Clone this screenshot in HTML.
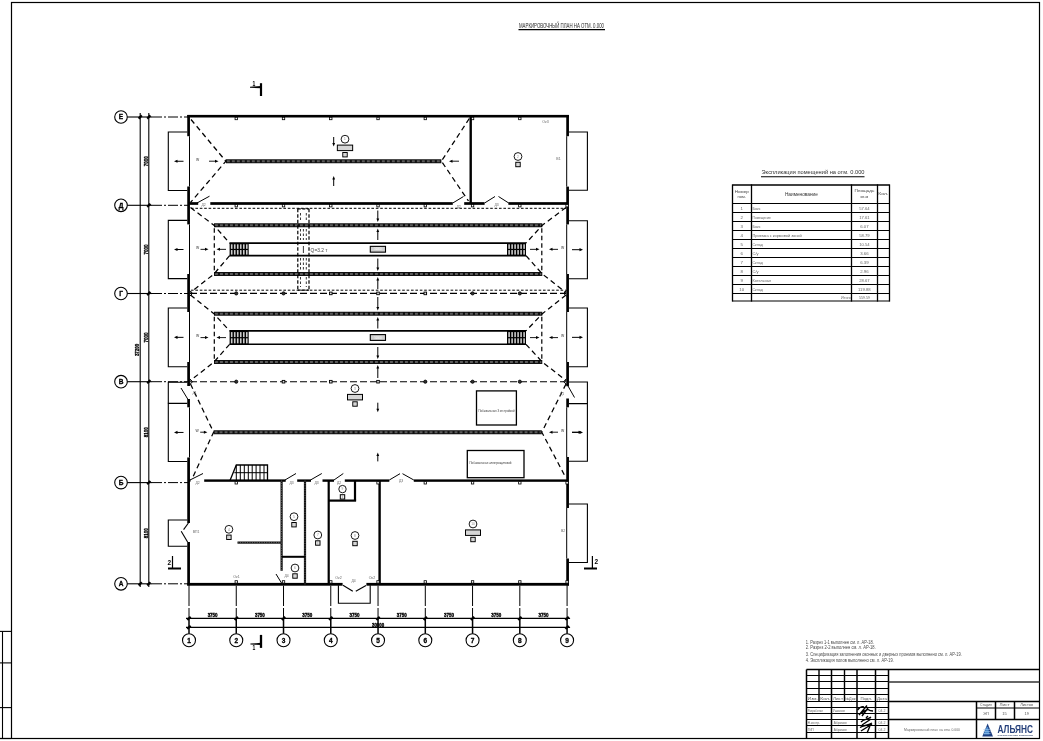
<!DOCTYPE html>
<html><head><meta charset="utf-8"><style>
html,body{margin:0;padding:0;background:#fff;}
svg{display:block;will-change:transform;}
text{font-family:"Liberation Sans",sans-serif;}
</style></head><body>
<svg width="1043" height="741" viewBox="0 0 1043 741">
<rect x="0" y="0" width="1043" height="741" fill="#fff"/>
<rect x="11.50" y="2.50" width="1028.00" height="736.00" fill="none" stroke="#000" stroke-width="1.2" />
<line x1="0.00" y1="738.50" x2="11.00" y2="738.50" stroke="#000" stroke-width="1.3" />
<line x1="0.00" y1="631.40" x2="11.00" y2="631.40" stroke="#000" stroke-width="1.1" />
<line x1="0.00" y1="662.90" x2="11.00" y2="662.90" stroke="#000" stroke-width="1.1" />
<line x1="0.00" y1="707.60" x2="11.00" y2="707.60" stroke="#000" stroke-width="1.1" />
<line x1="2.50" y1="631.40" x2="2.50" y2="738.50" stroke="#000" stroke-width="1.1" />
<text x="519.00" y="28.20" font-size="6.9" text-anchor="start" fill="#2a2a2a" font-weight="normal" font-family="Liberation Sans" textLength="85" lengthAdjust="spacingAndGlyphs" >МАРКИРОВОЧНЫЙ ПЛАН НА ОТМ. 0.000</text>
<line x1="518.50" y1="29.60" x2="605.00" y2="29.60" stroke="#000" stroke-width="1.1" />
<circle cx="121.00" cy="117.00" r="6.30" fill="none" stroke="#000" stroke-width="1.1"/>
<text x="121.00" y="119.40" font-size="6.5" text-anchor="middle" fill="#000" font-weight="bold" font-family="Liberation Sans"  stroke="#000" stroke-width="0.3">Е</text>
<line x1="127.30" y1="117.00" x2="152.00" y2="117.00" stroke="#000" stroke-width="1.1" />
<line x1="152.00" y1="117.00" x2="188.00" y2="117.00" stroke="#000" stroke-width="1.0" stroke-dasharray="10,2,2,2" />
<circle cx="121.00" cy="205.30" r="6.30" fill="none" stroke="#000" stroke-width="1.1"/>
<text x="121.00" y="207.70" font-size="6.5" text-anchor="middle" fill="#000" font-weight="bold" font-family="Liberation Sans"  stroke="#000" stroke-width="0.3">Д</text>
<line x1="127.30" y1="205.30" x2="152.00" y2="205.30" stroke="#000" stroke-width="1.1" />
<line x1="152.00" y1="205.30" x2="188.00" y2="205.30" stroke="#000" stroke-width="1.0" stroke-dasharray="10,2,2,2" />
<circle cx="121.00" cy="293.50" r="6.30" fill="none" stroke="#000" stroke-width="1.1"/>
<text x="121.00" y="295.90" font-size="6.5" text-anchor="middle" fill="#000" font-weight="bold" font-family="Liberation Sans"  stroke="#000" stroke-width="0.3">Г</text>
<line x1="127.30" y1="293.50" x2="152.00" y2="293.50" stroke="#000" stroke-width="1.1" />
<line x1="152.00" y1="293.50" x2="188.00" y2="293.50" stroke="#000" stroke-width="1.0" stroke-dasharray="10,2,2,2" />
<circle cx="121.00" cy="381.70" r="6.30" fill="none" stroke="#000" stroke-width="1.1"/>
<text x="121.00" y="384.10" font-size="6.5" text-anchor="middle" fill="#000" font-weight="bold" font-family="Liberation Sans"  stroke="#000" stroke-width="0.3">В</text>
<line x1="127.30" y1="381.70" x2="152.00" y2="381.70" stroke="#000" stroke-width="1.1" />
<line x1="152.00" y1="381.70" x2="188.00" y2="381.70" stroke="#000" stroke-width="1.0" stroke-dasharray="10,2,2,2" />
<circle cx="121.00" cy="482.60" r="6.30" fill="none" stroke="#000" stroke-width="1.1"/>
<text x="121.00" y="485.00" font-size="6.5" text-anchor="middle" fill="#000" font-weight="bold" font-family="Liberation Sans"  stroke="#000" stroke-width="0.3">Б</text>
<line x1="127.30" y1="482.60" x2="152.00" y2="482.60" stroke="#000" stroke-width="1.1" />
<line x1="152.00" y1="482.60" x2="188.00" y2="482.60" stroke="#000" stroke-width="1.0" stroke-dasharray="10,2,2,2" />
<circle cx="121.00" cy="583.80" r="6.30" fill="none" stroke="#000" stroke-width="1.1"/>
<text x="121.00" y="586.20" font-size="6.5" text-anchor="middle" fill="#000" font-weight="bold" font-family="Liberation Sans"  stroke="#000" stroke-width="0.3">А</text>
<line x1="127.30" y1="583.80" x2="152.00" y2="583.80" stroke="#000" stroke-width="1.1" />
<line x1="152.00" y1="583.80" x2="188.00" y2="583.80" stroke="#000" stroke-width="1.0" stroke-dasharray="10,2,2,2" />
<line x1="140.20" y1="113.00" x2="140.20" y2="587.00" stroke="#000" stroke-width="1.1" />
<line x1="148.80" y1="113.00" x2="148.80" y2="587.00" stroke="#000" stroke-width="1.1" />
<line x1="138.60" y1="118.60" x2="141.80" y2="115.40" stroke="#000" stroke-width="2.2" />
<line x1="138.60" y1="585.40" x2="141.80" y2="582.20" stroke="#000" stroke-width="2.2" />
<line x1="147.20" y1="118.60" x2="150.40" y2="115.40" stroke="#000" stroke-width="2.2" />
<line x1="147.20" y1="206.90" x2="150.40" y2="203.70" stroke="#000" stroke-width="2.2" />
<line x1="147.20" y1="295.10" x2="150.40" y2="291.90" stroke="#000" stroke-width="2.2" />
<line x1="147.20" y1="383.30" x2="150.40" y2="380.10" stroke="#000" stroke-width="2.2" />
<line x1="147.20" y1="484.20" x2="150.40" y2="481.00" stroke="#000" stroke-width="2.2" />
<line x1="147.20" y1="585.40" x2="150.40" y2="582.20" stroke="#000" stroke-width="2.2" />
<text x="148.10" y="161.15" font-size="5.4" text-anchor="middle" fill="#000" font-weight="bold" font-family="Liberation Sans" textLength="10" lengthAdjust="spacingAndGlyphs" transform="rotate(-90 148.10 161.15)"  stroke="#000" stroke-width="0.35">7000</text>
<text x="148.10" y="249.40" font-size="5.4" text-anchor="middle" fill="#000" font-weight="bold" font-family="Liberation Sans" textLength="10" lengthAdjust="spacingAndGlyphs" transform="rotate(-90 148.10 249.40)"  stroke="#000" stroke-width="0.35">7000</text>
<text x="148.10" y="337.60" font-size="5.4" text-anchor="middle" fill="#000" font-weight="bold" font-family="Liberation Sans" textLength="10" lengthAdjust="spacingAndGlyphs" transform="rotate(-90 148.10 337.60)"  stroke="#000" stroke-width="0.35">7000</text>
<text x="148.10" y="432.15" font-size="5.4" text-anchor="middle" fill="#000" font-weight="bold" font-family="Liberation Sans" textLength="10" lengthAdjust="spacingAndGlyphs" transform="rotate(-90 148.10 432.15)"  stroke="#000" stroke-width="0.35">8100</text>
<text x="148.10" y="533.20" font-size="5.4" text-anchor="middle" fill="#000" font-weight="bold" font-family="Liberation Sans" textLength="10" lengthAdjust="spacingAndGlyphs" transform="rotate(-90 148.10 533.20)"  stroke="#000" stroke-width="0.35">8100</text>
<text x="139.10" y="350.00" font-size="5.4" text-anchor="middle" fill="#000" font-weight="bold" font-family="Liberation Sans" textLength="12.2" lengthAdjust="spacingAndGlyphs" transform="rotate(-90 139.10 350.00)"  stroke="#000" stroke-width="0.35">37200</text>
<circle cx="189.00" cy="640.20" r="6.50" fill="none" stroke="#000" stroke-width="1.1"/>
<text x="189.00" y="642.60" font-size="6.5" text-anchor="middle" fill="#000" font-weight="bold" font-family="Liberation Sans"  stroke="#000" stroke-width="0.3">1</text>
<line x1="189.00" y1="585.70" x2="189.00" y2="606.00" stroke="#000" stroke-width="1.0" />
<line x1="189.00" y1="608.00" x2="189.00" y2="618.40" stroke="#000" stroke-width="1.0" />
<line x1="189.00" y1="618.40" x2="189.00" y2="633.70" stroke="#000" stroke-width="1.5" />
<circle cx="236.26" cy="640.20" r="6.50" fill="none" stroke="#000" stroke-width="1.1"/>
<text x="236.26" y="642.60" font-size="6.5" text-anchor="middle" fill="#000" font-weight="bold" font-family="Liberation Sans"  stroke="#000" stroke-width="0.3">2</text>
<line x1="236.26" y1="585.70" x2="236.26" y2="606.00" stroke="#000" stroke-width="1.0" />
<line x1="236.26" y1="608.00" x2="236.26" y2="618.40" stroke="#000" stroke-width="1.0" />
<line x1="236.26" y1="618.40" x2="236.26" y2="633.70" stroke="#000" stroke-width="1.5" />
<circle cx="283.52" cy="640.20" r="6.50" fill="none" stroke="#000" stroke-width="1.1"/>
<text x="283.52" y="642.60" font-size="6.5" text-anchor="middle" fill="#000" font-weight="bold" font-family="Liberation Sans"  stroke="#000" stroke-width="0.3">3</text>
<line x1="283.52" y1="585.70" x2="283.52" y2="606.00" stroke="#000" stroke-width="1.0" />
<line x1="283.52" y1="608.00" x2="283.52" y2="618.40" stroke="#000" stroke-width="1.0" />
<line x1="283.52" y1="618.40" x2="283.52" y2="633.70" stroke="#000" stroke-width="1.5" />
<circle cx="330.78" cy="640.20" r="6.50" fill="none" stroke="#000" stroke-width="1.1"/>
<text x="330.78" y="642.60" font-size="6.5" text-anchor="middle" fill="#000" font-weight="bold" font-family="Liberation Sans"  stroke="#000" stroke-width="0.3">4</text>
<line x1="330.78" y1="585.70" x2="330.78" y2="606.00" stroke="#000" stroke-width="1.0" />
<line x1="330.78" y1="608.00" x2="330.78" y2="618.40" stroke="#000" stroke-width="1.0" />
<line x1="330.78" y1="618.40" x2="330.78" y2="633.70" stroke="#000" stroke-width="1.5" />
<circle cx="378.04" cy="640.20" r="6.50" fill="none" stroke="#000" stroke-width="1.1"/>
<text x="378.04" y="642.60" font-size="6.5" text-anchor="middle" fill="#000" font-weight="bold" font-family="Liberation Sans"  stroke="#000" stroke-width="0.3">5</text>
<line x1="378.04" y1="585.70" x2="378.04" y2="606.00" stroke="#000" stroke-width="1.0" />
<line x1="378.04" y1="608.00" x2="378.04" y2="618.40" stroke="#000" stroke-width="1.0" />
<line x1="378.04" y1="618.40" x2="378.04" y2="633.70" stroke="#000" stroke-width="1.5" />
<circle cx="425.30" cy="640.20" r="6.50" fill="none" stroke="#000" stroke-width="1.1"/>
<text x="425.30" y="642.60" font-size="6.5" text-anchor="middle" fill="#000" font-weight="bold" font-family="Liberation Sans"  stroke="#000" stroke-width="0.3">6</text>
<line x1="425.30" y1="585.70" x2="425.30" y2="606.00" stroke="#000" stroke-width="1.0" />
<line x1="425.30" y1="608.00" x2="425.30" y2="618.40" stroke="#000" stroke-width="1.0" />
<line x1="425.30" y1="618.40" x2="425.30" y2="633.70" stroke="#000" stroke-width="1.5" />
<circle cx="472.56" cy="640.20" r="6.50" fill="none" stroke="#000" stroke-width="1.1"/>
<text x="472.56" y="642.60" font-size="6.5" text-anchor="middle" fill="#000" font-weight="bold" font-family="Liberation Sans"  stroke="#000" stroke-width="0.3">7</text>
<line x1="472.56" y1="585.70" x2="472.56" y2="606.00" stroke="#000" stroke-width="1.0" />
<line x1="472.56" y1="608.00" x2="472.56" y2="618.40" stroke="#000" stroke-width="1.0" />
<line x1="472.56" y1="618.40" x2="472.56" y2="633.70" stroke="#000" stroke-width="1.5" />
<circle cx="519.82" cy="640.20" r="6.50" fill="none" stroke="#000" stroke-width="1.1"/>
<text x="519.82" y="642.60" font-size="6.5" text-anchor="middle" fill="#000" font-weight="bold" font-family="Liberation Sans"  stroke="#000" stroke-width="0.3">8</text>
<line x1="519.82" y1="585.70" x2="519.82" y2="606.00" stroke="#000" stroke-width="1.0" />
<line x1="519.82" y1="608.00" x2="519.82" y2="618.40" stroke="#000" stroke-width="1.0" />
<line x1="519.82" y1="618.40" x2="519.82" y2="633.70" stroke="#000" stroke-width="1.5" />
<circle cx="567.08" cy="640.20" r="6.50" fill="none" stroke="#000" stroke-width="1.1"/>
<text x="567.08" y="642.60" font-size="6.5" text-anchor="middle" fill="#000" font-weight="bold" font-family="Liberation Sans"  stroke="#000" stroke-width="0.3">9</text>
<line x1="567.08" y1="585.70" x2="567.08" y2="606.00" stroke="#000" stroke-width="1.0" />
<line x1="567.08" y1="608.00" x2="567.08" y2="618.40" stroke="#000" stroke-width="1.0" />
<line x1="567.08" y1="618.40" x2="567.08" y2="633.70" stroke="#000" stroke-width="1.5" />
<line x1="186.00" y1="618.40" x2="570.08" y2="618.40" stroke="#000" stroke-width="1.1" />
<line x1="186.00" y1="627.40" x2="570.08" y2="627.40" stroke="#000" stroke-width="1.1" />
<line x1="187.40" y1="620.00" x2="190.60" y2="616.80" stroke="#000" stroke-width="2.2" />
<line x1="234.66" y1="620.00" x2="237.86" y2="616.80" stroke="#000" stroke-width="2.2" />
<line x1="281.92" y1="620.00" x2="285.12" y2="616.80" stroke="#000" stroke-width="2.2" />
<line x1="329.18" y1="620.00" x2="332.38" y2="616.80" stroke="#000" stroke-width="2.2" />
<line x1="376.44" y1="620.00" x2="379.64" y2="616.80" stroke="#000" stroke-width="2.2" />
<line x1="423.70" y1="620.00" x2="426.90" y2="616.80" stroke="#000" stroke-width="2.2" />
<line x1="470.96" y1="620.00" x2="474.16" y2="616.80" stroke="#000" stroke-width="2.2" />
<line x1="518.22" y1="620.00" x2="521.42" y2="616.80" stroke="#000" stroke-width="2.2" />
<line x1="565.48" y1="620.00" x2="568.68" y2="616.80" stroke="#000" stroke-width="2.2" />
<line x1="187.40" y1="629.00" x2="190.60" y2="625.80" stroke="#000" stroke-width="2.2" />
<line x1="565.48" y1="629.00" x2="568.68" y2="625.80" stroke="#000" stroke-width="2.2" />
<text x="212.63" y="617.40" font-size="5.4" text-anchor="middle" fill="#000" font-weight="bold" font-family="Liberation Sans" textLength="10" lengthAdjust="spacingAndGlyphs"  stroke="#000" stroke-width="0.35">3750</text>
<text x="259.89" y="617.40" font-size="5.4" text-anchor="middle" fill="#000" font-weight="bold" font-family="Liberation Sans" textLength="10" lengthAdjust="spacingAndGlyphs"  stroke="#000" stroke-width="0.35">3750</text>
<text x="307.15" y="617.40" font-size="5.4" text-anchor="middle" fill="#000" font-weight="bold" font-family="Liberation Sans" textLength="10" lengthAdjust="spacingAndGlyphs"  stroke="#000" stroke-width="0.35">3750</text>
<text x="354.41" y="617.40" font-size="5.4" text-anchor="middle" fill="#000" font-weight="bold" font-family="Liberation Sans" textLength="10" lengthAdjust="spacingAndGlyphs"  stroke="#000" stroke-width="0.35">3750</text>
<text x="401.67" y="617.40" font-size="5.4" text-anchor="middle" fill="#000" font-weight="bold" font-family="Liberation Sans" textLength="10" lengthAdjust="spacingAndGlyphs"  stroke="#000" stroke-width="0.35">3750</text>
<text x="448.93" y="617.40" font-size="5.4" text-anchor="middle" fill="#000" font-weight="bold" font-family="Liberation Sans" textLength="10" lengthAdjust="spacingAndGlyphs"  stroke="#000" stroke-width="0.35">3750</text>
<text x="496.19" y="617.40" font-size="5.4" text-anchor="middle" fill="#000" font-weight="bold" font-family="Liberation Sans" textLength="10" lengthAdjust="spacingAndGlyphs"  stroke="#000" stroke-width="0.35">3750</text>
<text x="543.45" y="617.40" font-size="5.4" text-anchor="middle" fill="#000" font-weight="bold" font-family="Liberation Sans" textLength="10" lengthAdjust="spacingAndGlyphs"  stroke="#000" stroke-width="0.35">3750</text>
<text x="378.04" y="626.70" font-size="5.4" text-anchor="middle" fill="#000" font-weight="bold" font-family="Liberation Sans" textLength="12.2" lengthAdjust="spacingAndGlyphs"  stroke="#000" stroke-width="0.35">30000</text>
<line x1="261.00" y1="83.20" x2="261.00" y2="96.00" stroke="#000" stroke-width="2.2" />
<path d="M250 86.7 L261 86.1 L261 88.3 L250 87.7 Z" fill="#000"/>
<text x="253.80" y="86.20" font-size="7.2" text-anchor="middle" fill="#000" font-weight="bold" font-family="Liberation Sans" textLength="2.8" lengthAdjust="spacingAndGlyphs" >1</text>
<line x1="261.00" y1="634.90" x2="261.00" y2="647.90" stroke="#000" stroke-width="2.3" />
<path d="M250.4 643.4 L256 643.2 L261 642.8 L261 645.1 L256 644.8 L250.4 644.4 Z" fill="#000"/>
<text x="253.90" y="649.90" font-size="7.4" text-anchor="middle" fill="#000" font-weight="bold" font-family="Liberation Sans" textLength="2.8" lengthAdjust="spacingAndGlyphs" >1</text>
<line x1="172.50" y1="556.00" x2="172.50" y2="568.50" stroke="#000" stroke-width="1.2" />
<line x1="168.00" y1="568.50" x2="181.00" y2="568.50" stroke="#000" stroke-width="2.0" />
<text x="169.40" y="564.80" font-size="6.8" text-anchor="middle" fill="#000" font-weight="bold" font-family="Liberation Sans" textLength="3.6" lengthAdjust="spacingAndGlyphs" >2</text>
<line x1="592.40" y1="556.00" x2="592.40" y2="568.50" stroke="#000" stroke-width="1.2" />
<line x1="584.00" y1="568.50" x2="597.00" y2="568.50" stroke="#000" stroke-width="2.0" />
<text x="596.20" y="563.80" font-size="6.8" text-anchor="middle" fill="#000" font-weight="bold" font-family="Liberation Sans" textLength="3.6" lengthAdjust="spacingAndGlyphs" >2</text>
<rect x="187.25" y="114.90" width="381.70" height="2.60" fill="#000"/>
<rect x="187.25" y="582.90" width="155.35" height="2.80" fill="#000"/>
<rect x="366.40" y="582.90" width="202.55" height="2.80" fill="#000"/>
<rect x="187.25" y="115.00" width="2.70" height="21.20" fill="#000"/>
<rect x="187.25" y="186.50" width="2.70" height="37.90" fill="#000"/>
<rect x="187.25" y="274.00" width="2.70" height="38.00" fill="#000"/>
<rect x="187.25" y="362.00" width="2.70" height="24.00" fill="#000"/>
<rect x="187.25" y="399.00" width="2.70" height="8.30" fill="#000"/>
<rect x="187.25" y="457.50" width="2.70" height="65.50" fill="#000"/>
<rect x="187.25" y="542.00" width="2.70" height="43.50" fill="#000"/>
<line x1="189.50" y1="136.20" x2="189.50" y2="186.50" stroke="#000" stroke-width="1.0" />
<line x1="189.50" y1="224.40" x2="189.50" y2="274.00" stroke="#000" stroke-width="1.0" />
<line x1="189.50" y1="312.00" x2="189.50" y2="362.00" stroke="#000" stroke-width="1.0" />
<line x1="189.50" y1="407.30" x2="189.50" y2="457.50" stroke="#000" stroke-width="1.0" />
<rect x="566.25" y="115.00" width="2.70" height="21.20" fill="#000"/>
<rect x="566.25" y="186.60" width="2.70" height="37.80" fill="#000"/>
<rect x="566.25" y="274.00" width="2.70" height="38.00" fill="#000"/>
<rect x="566.25" y="362.00" width="2.70" height="24.20" fill="#000"/>
<rect x="566.25" y="398.50" width="2.70" height="8.80" fill="#000"/>
<rect x="566.25" y="457.00" width="2.70" height="51.00" fill="#000"/>
<rect x="566.25" y="558.50" width="2.70" height="27.00" fill="#000"/>
<line x1="566.70" y1="136.20" x2="566.70" y2="186.60" stroke="#000" stroke-width="1.0" />
<line x1="566.70" y1="224.40" x2="566.70" y2="274.00" stroke="#000" stroke-width="1.0" />
<line x1="566.70" y1="312.00" x2="566.70" y2="362.00" stroke="#000" stroke-width="1.0" />
<line x1="566.70" y1="407.30" x2="566.70" y2="457.00" stroke="#000" stroke-width="1.0" />
<line x1="566.70" y1="508.00" x2="566.70" y2="558.50" stroke="#000" stroke-width="1.0" />
<polyline points="187.30,132.00 168.30,132.00 168.30,190.50 187.30,190.50" fill="none" stroke="#000" stroke-width="1.1"/>
<line x1="176.00" y1="161.25" x2="183.50" y2="161.25" stroke="#000" stroke-width="1.0" />
<path d="M174 161.25 L177.5 159.65 L177.5 162.85 Z" fill="#000"/>
<polyline points="187.30,220.40 168.30,220.40 168.30,278.60 187.30,278.60" fill="none" stroke="#000" stroke-width="1.1"/>
<line x1="176.00" y1="249.50" x2="183.50" y2="249.50" stroke="#000" stroke-width="1.0" />
<path d="M174 249.50 L177.5 247.90 L177.5 251.10 Z" fill="#000"/>
<polyline points="187.30,308.00 168.30,308.00 168.30,366.70 187.30,366.70" fill="none" stroke="#000" stroke-width="1.1"/>
<line x1="176.00" y1="337.35" x2="183.50" y2="337.35" stroke="#000" stroke-width="1.0" />
<path d="M174 337.35 L177.5 335.75 L177.5 338.95 Z" fill="#000"/>
<polyline points="187.30,403.40 168.30,403.40 168.30,461.50 187.30,461.50" fill="none" stroke="#000" stroke-width="1.1"/>
<line x1="176.00" y1="432.45" x2="183.50" y2="432.45" stroke="#000" stroke-width="1.0" />
<path d="M174 432.45 L177.5 430.85 L177.5 434.05 Z" fill="#000"/>
<polyline points="187.30,382.20 168.30,382.20 168.30,403.40" fill="none" stroke="#000" stroke-width="1.1"/>
<line x1="181.00" y1="388.00" x2="188.00" y2="399.50" stroke="#000" stroke-width="1.0" />
<polyline points="187.30,520.00 168.30,520.00 168.30,546.30 187.30,546.30" fill="none" stroke="#000" stroke-width="1.1"/>
<rect x="187.25" y="520.00" width="2.70" height="0.00" fill="#000"/>
<polyline points="188.40,523.00 183.60,529.60" fill="none" stroke="#000" stroke-width="1.1"/>
<polyline points="181.20,531.30 187.60,542.00" fill="none" stroke="#000" stroke-width="1.1"/>
<polyline points="568.90,132.00 587.40,132.00 587.40,190.30 568.90,190.30" fill="none" stroke="#000" stroke-width="1.1"/>
<polyline points="568.90,220.70 587.40,220.70 587.40,278.70 568.90,278.70" fill="none" stroke="#000" stroke-width="1.1"/>
<polyline points="568.90,308.00 587.40,308.00 587.40,366.70 568.90,366.70" fill="none" stroke="#000" stroke-width="1.1"/>
<polyline points="568.90,403.60 587.40,403.60 587.40,461.20 568.90,461.20" fill="none" stroke="#000" stroke-width="1.1"/>
<polyline points="568.90,504.00 587.40,504.00 587.40,562.50 568.90,562.50" fill="none" stroke="#000" stroke-width="1.1"/>
<line x1="572.00" y1="249.70" x2="580.50" y2="249.70" stroke="#000" stroke-width="1.0" />
<path d="M583 249.70 L579.5 248.10 L579.5 251.30 Z" fill="#000"/>
<line x1="572.00" y1="337.35" x2="580.50" y2="337.35" stroke="#000" stroke-width="1.0" />
<path d="M583 337.35 L579.5 335.75 L579.5 338.95 Z" fill="#000"/>
<line x1="572.00" y1="432.40" x2="580.50" y2="432.40" stroke="#000" stroke-width="1.0" />
<path d="M583 432.40 L579.5 430.80 L579.5 434.00 Z" fill="#000"/>
<polyline points="568.90,382.00 587.40,382.00 587.40,403.60" fill="none" stroke="#000" stroke-width="1.1"/>
<line x1="568.00" y1="386.00" x2="574.50" y2="397.50" stroke="#000" stroke-width="1.0" />
<rect x="188.60" y="202.15" width="9.60" height="2.70" fill="#000"/>
<rect x="210.30" y="202.15" width="242.50" height="2.70" fill="#000"/>
<rect x="464.20" y="202.15" width="20.40" height="2.70" fill="#000"/>
<rect x="508.40" y="202.15" width="59.20" height="2.70" fill="#000"/>
<line x1="197.00" y1="203.00" x2="209.50" y2="196.20" stroke="#000" stroke-width="1.0" />
<line x1="452.80" y1="203.00" x2="463.50" y2="196.50" stroke="#000" stroke-width="1.0" />
<polyline points="484.60,203.00 495.00,196.50" fill="none" stroke="#000" stroke-width="1.0"/>
<polyline points="498.50,196.50 508.70,203.00" fill="none" stroke="#000" stroke-width="1.0"/>
<rect x="469.50" y="116.20" width="2.40" height="87.30" fill="#000"/>
<rect x="188.60" y="479.50" width="1.90" height="2.20" fill="#000"/>
<rect x="204.20" y="479.40" width="81.50" height="2.40" fill="#000"/>
<rect x="297.20" y="479.40" width="13.80" height="2.40" fill="#000"/>
<rect x="322.50" y="479.40" width="11.50" height="2.40" fill="#000"/>
<rect x="344.80" y="479.40" width="44.50" height="2.40" fill="#000"/>
<rect x="413.80" y="479.40" width="153.80" height="2.40" fill="#000"/>
<line x1="190.00" y1="480.00" x2="203.00" y2="473.50" stroke="#000" stroke-width="1.0" />
<line x1="285.00" y1="480.00" x2="296.00" y2="473.50" stroke="#000" stroke-width="1.0" />
<line x1="310.50" y1="480.00" x2="321.80" y2="473.50" stroke="#000" stroke-width="1.0" />
<line x1="334.00" y1="480.00" x2="343.30" y2="473.50" stroke="#000" stroke-width="1.0" />
<polyline points="389.30,480.00 400.00,473.70" fill="none" stroke="#000" stroke-width="1.0"/>
<polyline points="402.50,473.70 413.80,480.00" fill="none" stroke="#000" stroke-width="1.0"/>
<polyline points="230.00,480.60 236.30,465.00 267.50,465.00 267.50,480.60" fill="none" stroke="#000" stroke-width="1.3"/>
<line x1="234.30" y1="472.70" x2="267.50" y2="472.70" stroke="#000" stroke-width="1.0" />
<line x1="240.30" y1="465.00" x2="240.30" y2="480.60" stroke="#000" stroke-width="1.0" />
<line x1="244.30" y1="465.00" x2="244.30" y2="480.60" stroke="#000" stroke-width="1.0" />
<line x1="248.30" y1="465.00" x2="248.30" y2="480.60" stroke="#000" stroke-width="1.0" />
<line x1="252.20" y1="465.00" x2="252.20" y2="480.60" stroke="#000" stroke-width="1.0" />
<line x1="256.10" y1="465.00" x2="256.10" y2="480.60" stroke="#000" stroke-width="1.0" />
<line x1="260.00" y1="465.00" x2="260.00" y2="480.60" stroke="#000" stroke-width="1.0" />
<line x1="264.00" y1="465.00" x2="264.00" y2="480.60" stroke="#000" stroke-width="1.0" />
<line x1="236.30" y1="465.00" x2="236.30" y2="480.60" stroke="#000" stroke-width="1.0" />
<rect x="280.50" y="480.60" width="2.20" height="90.20" fill="#111"/>
<line x1="281.60" y1="480.60" x2="281.60" y2="570.80" stroke="#777" stroke-width="0.8" stroke-dasharray="1,1.4" />
<rect x="237.50" y="541.50" width="44.10" height="2.20" fill="#111"/>
<line x1="237.50" y1="542.60" x2="281.60" y2="542.60" stroke="#777" stroke-width="0.8" stroke-dasharray="1,1.4" />
<rect x="303.90" y="480.60" width="2.20" height="103.70" fill="#111"/>
<line x1="305.00" y1="480.60" x2="305.00" y2="584.30" stroke="#777" stroke-width="0.8" stroke-dasharray="1,1.4" />
<rect x="327.60" y="480.60" width="2.20" height="103.70" fill="#000"/>
<rect x="353.90" y="480.60" width="2.20" height="20.00" fill="#000"/>
<rect x="328.70" y="499.50" width="27.40" height="2.20" fill="#000"/>
<rect x="378.40" y="480.60" width="2.40" height="103.70" fill="#000"/>
<line x1="282.00" y1="556.80" x2="305.00" y2="556.80" stroke="#000" stroke-width="2.0" />
<line x1="276.00" y1="574.00" x2="281.50" y2="583.00" stroke="#000" stroke-width="1.0" />
<polyline points="338.40,585.30 338.40,603.30 370.20,603.30 370.20,585.30" fill="none" stroke="#000" stroke-width="1.1"/>
<polyline points="343.00,585.20 352.80,591.30" fill="none" stroke="#000" stroke-width="1.1"/>
<polyline points="355.80,591.30 366.00,585.50" fill="none" stroke="#000" stroke-width="1.1"/>
<rect x="235.06" y="117.30" width="2.40" height="2.40" fill="#fff" stroke="#000" stroke-width="0.8" />
<rect x="282.32" y="117.30" width="2.40" height="2.40" fill="#fff" stroke="#000" stroke-width="0.8" />
<rect x="329.58" y="117.30" width="2.40" height="2.40" fill="#fff" stroke="#000" stroke-width="0.8" />
<rect x="376.84" y="117.30" width="2.40" height="2.40" fill="#fff" stroke="#000" stroke-width="0.8" />
<rect x="424.10" y="117.30" width="2.40" height="2.40" fill="#fff" stroke="#000" stroke-width="0.8" />
<rect x="471.36" y="117.30" width="2.40" height="2.40" fill="#fff" stroke="#000" stroke-width="0.8" />
<rect x="518.62" y="117.30" width="2.40" height="2.40" fill="#fff" stroke="#000" stroke-width="0.8" />
<rect x="235.06" y="204.50" width="2.40" height="2.40" fill="#fff" stroke="#000" stroke-width="0.8" />
<rect x="282.32" y="204.50" width="2.40" height="2.40" fill="#fff" stroke="#000" stroke-width="0.8" />
<rect x="329.58" y="204.50" width="2.40" height="2.40" fill="#fff" stroke="#000" stroke-width="0.8" />
<rect x="376.84" y="204.50" width="2.40" height="2.40" fill="#fff" stroke="#000" stroke-width="0.8" />
<rect x="424.10" y="204.50" width="2.40" height="2.40" fill="#fff" stroke="#000" stroke-width="0.8" />
<rect x="471.36" y="204.50" width="2.40" height="2.40" fill="#fff" stroke="#000" stroke-width="0.8" />
<rect x="518.62" y="204.50" width="2.40" height="2.40" fill="#fff" stroke="#000" stroke-width="0.8" />
<rect x="565.88" y="204.50" width="2.40" height="2.40" fill="#fff" stroke="#000" stroke-width="0.8" />
<rect x="235.06" y="481.60" width="2.40" height="2.40" fill="#fff" stroke="#000" stroke-width="0.8" />
<rect x="376.84" y="481.60" width="2.40" height="2.40" fill="#fff" stroke="#000" stroke-width="0.8" />
<rect x="424.10" y="481.60" width="2.40" height="2.40" fill="#fff" stroke="#000" stroke-width="0.8" />
<rect x="471.36" y="481.60" width="2.40" height="2.40" fill="#fff" stroke="#000" stroke-width="0.8" />
<rect x="518.62" y="481.60" width="2.40" height="2.40" fill="#fff" stroke="#000" stroke-width="0.8" />
<rect x="565.88" y="481.60" width="2.40" height="2.40" fill="#fff" stroke="#000" stroke-width="0.8" />
<rect x="235.06" y="580.70" width="2.40" height="2.40" fill="#fff" stroke="#000" stroke-width="0.8" />
<rect x="282.32" y="580.70" width="2.40" height="2.40" fill="#fff" stroke="#000" stroke-width="0.8" />
<rect x="329.58" y="580.70" width="2.40" height="2.40" fill="#fff" stroke="#000" stroke-width="0.8" />
<rect x="376.84" y="580.70" width="2.40" height="2.40" fill="#fff" stroke="#000" stroke-width="0.8" />
<rect x="424.10" y="580.70" width="2.40" height="2.40" fill="#fff" stroke="#000" stroke-width="0.8" />
<rect x="471.36" y="580.70" width="2.40" height="2.40" fill="#fff" stroke="#000" stroke-width="0.8" />
<rect x="518.62" y="580.70" width="2.40" height="2.40" fill="#fff" stroke="#000" stroke-width="0.8" />
<rect x="565.88" y="580.70" width="2.40" height="2.40" fill="#fff" stroke="#000" stroke-width="0.8" />
<line x1="225.90" y1="161.20" x2="441.40" y2="161.20" stroke="#111" stroke-width="3.9" />
<line x1="226.90" y1="161.20" x2="440.40" y2="161.20" stroke="#5a5a5a" stroke-width="1.9" stroke-dasharray="2.9,2.1" />
<polyline points="191.00,119.50 225.90,161.20 190.50,202.50" fill="none" stroke="#000" stroke-width="1.25" stroke-dasharray="5.2,3.6"/>
<polyline points="469.30,118.50 441.40,161.20 468.50,201.00" fill="none" stroke="#000" stroke-width="1.25" stroke-dasharray="5.2,3.6"/>
<text x="197.50" y="160.60" font-size="3.9" text-anchor="middle" fill="#707070" font-weight="bold" font-family="Liberation Sans" textLength="3.2" lengthAdjust="spacingAndGlyphs" >W</text>
<line x1="209.00" y1="161.20" x2="216.00" y2="161.20" stroke="#000" stroke-width="0.9" />
<path d="M218.50 161.20 L215.00 159.70 L215.00 162.70 Z" fill="#000"/>
<line x1="451.50" y1="161.20" x2="459.00" y2="161.20" stroke="#000" stroke-width="0.9" />
<path d="M449.00 161.20 L452.50 159.70 L452.50 162.70 Z" fill="#000"/>
<circle cx="345.00" cy="139.20" r="3.90" fill="#fff" stroke="#000" stroke-width="0.9"/>
<text x="345.00" y="140.40" font-size="3.2" text-anchor="middle" fill="#888" font-weight="normal" font-family="Liberation Sans" >1</text>
<rect x="337.35" y="145.10" width="15.30" height="5.50" fill="#d6d6d6" stroke="#000" stroke-width="1.0" />
<rect x="342.80" y="152.50" width="4.40" height="4.40" fill="#f0f0f0" stroke="#000" stroke-width="1.0" />
<line x1="345.00" y1="153.00" x2="345.00" y2="156.40" stroke="#888" stroke-width="0.5" />
<line x1="333.70" y1="137.00" x2="333.70" y2="144.00" stroke="#000" stroke-width="1.0" />
<path d="M333.70 146.50 L332.30 143.00 L335.10 143.00 Z" fill="#000"/>
<line x1="333.70" y1="178.50" x2="333.70" y2="186.00" stroke="#000" stroke-width="1.0" />
<path d="M333.70 176.00 L332.30 179.50 L335.10 179.50 Z" fill="#000"/>
<circle cx="518.00" cy="156.50" r="3.90" fill="#fff" stroke="#000" stroke-width="0.9"/>
<text x="518.00" y="157.70" font-size="3.2" text-anchor="middle" fill="#888" font-weight="normal" font-family="Liberation Sans" >2</text>
<rect x="515.80" y="162.30" width="4.40" height="4.40" fill="#f0f0f0" stroke="#000" stroke-width="1.0" />
<line x1="518.00" y1="162.80" x2="518.00" y2="166.20" stroke="#888" stroke-width="0.5" />
<text x="545.50" y="122.50" font-size="3.6" text-anchor="middle" fill="#666" font-weight="normal" font-family="Liberation Sans" >Ок3</text>
<text x="558.50" y="160.00" font-size="3.6" text-anchor="middle" fill="#666" font-weight="normal" font-family="Liberation Sans" >В1</text>
<text x="203.50" y="206.30" font-size="3.4" text-anchor="middle" fill="#666" font-weight="normal" font-family="Liberation Sans" >Д2</text>
<text x="458.50" y="207.50" font-size="3.4" text-anchor="middle" fill="#666" font-weight="normal" font-family="Liberation Sans" >Д2</text>
<text x="496.50" y="206.00" font-size="3.4" text-anchor="middle" fill="#666" font-weight="normal" font-family="Liberation Sans" >Д3</text>
<line x1="191.00" y1="208.30" x2="566.00" y2="208.30" stroke="#000" stroke-width="1.0" stroke-dasharray="2.6,1.8" />
<line x1="191.00" y1="290.20" x2="566.00" y2="290.20" stroke="#000" stroke-width="1.0" stroke-dasharray="2.6,1.8" />
<line x1="190.00" y1="293.40" x2="566.00" y2="293.40" stroke="#000" stroke-width="1.1" stroke-dasharray="7,3" />
<line x1="190.00" y1="381.70" x2="566.00" y2="381.70" stroke="#000" stroke-width="1.1" stroke-dasharray="7,3" />
<circle cx="236.26" cy="293.40" r="1.60" fill="#333" stroke="#000" stroke-width="0.8"/>
<circle cx="236.26" cy="381.70" r="1.60" fill="#333" stroke="#000" stroke-width="0.8"/>
<circle cx="283.52" cy="293.40" r="1.60" fill="#333" stroke="#000" stroke-width="0.8"/>
<rect x="282.22" y="380.40" width="2.60" height="2.60" fill="#ddd" stroke="#000" stroke-width="0.9" />
<rect x="329.48" y="292.10" width="2.60" height="2.60" fill="#ddd" stroke="#000" stroke-width="0.9" />
<rect x="329.48" y="380.40" width="2.60" height="2.60" fill="#ddd" stroke="#000" stroke-width="0.9" />
<rect x="376.74" y="292.10" width="2.60" height="2.60" fill="#ddd" stroke="#000" stroke-width="0.9" />
<rect x="376.74" y="380.40" width="2.60" height="2.60" fill="#ddd" stroke="#000" stroke-width="0.9" />
<rect x="424.00" y="292.10" width="2.60" height="2.60" fill="#ddd" stroke="#000" stroke-width="0.9" />
<circle cx="425.30" cy="381.70" r="1.60" fill="#333" stroke="#000" stroke-width="0.8"/>
<circle cx="472.56" cy="293.40" r="1.60" fill="#333" stroke="#000" stroke-width="0.8"/>
<circle cx="472.56" cy="381.70" r="1.60" fill="#333" stroke="#000" stroke-width="0.8"/>
<circle cx="519.82" cy="293.40" r="1.60" fill="#333" stroke="#000" stroke-width="0.8"/>
<circle cx="519.82" cy="381.70" r="1.60" fill="#333" stroke="#000" stroke-width="0.8"/>
<path d="M189.60 290.40 L192.60 293.40 L189.60 296.40" fill="none" stroke="#000" stroke-width="1"/>
<path d="M566.60 290.40 L563.60 293.40 L566.60 296.40" fill="none" stroke="#000" stroke-width="1"/>
<path d="M189.60 378.70 L192.60 381.70 L189.60 384.70" fill="none" stroke="#000" stroke-width="1"/>
<path d="M566.60 378.70 L563.60 381.70 L566.60 384.70" fill="none" stroke="#000" stroke-width="1"/>
<line x1="214.00" y1="225.30" x2="542.30" y2="225.30" stroke="#111" stroke-width="3.9" />
<line x1="215.00" y1="225.30" x2="541.30" y2="225.30" stroke="#5a5a5a" stroke-width="1.9" stroke-dasharray="2.9,2.1" />
<line x1="214.00" y1="274.00" x2="542.30" y2="274.00" stroke="#111" stroke-width="3.9" />
<line x1="215.00" y1="274.00" x2="541.30" y2="274.00" stroke="#5a5a5a" stroke-width="1.9" stroke-dasharray="2.9,2.1" />
<line x1="229.60" y1="243.10" x2="526.00" y2="243.10" stroke="#000" stroke-width="1.6" />
<line x1="229.60" y1="255.60" x2="526.00" y2="255.60" stroke="#000" stroke-width="1.6" />
<rect x="229.60" y="243.10" width="19.10" height="12.50" fill="#000"/>
<rect x="230.90" y="244.30" width="1.62" height="4.55" fill="#ccc"/>
<rect x="233.92" y="244.30" width="1.62" height="4.55" fill="#ccc"/>
<rect x="236.93" y="244.30" width="1.62" height="4.55" fill="#ccc"/>
<rect x="239.95" y="244.30" width="1.62" height="4.55" fill="#ccc"/>
<rect x="242.97" y="244.30" width="1.62" height="4.55" fill="#ccc"/>
<rect x="245.98" y="244.30" width="1.62" height="4.55" fill="#ccc"/>
<rect x="230.90" y="250.05" width="1.62" height="4.55" fill="#ccc"/>
<rect x="233.92" y="250.05" width="1.62" height="4.55" fill="#ccc"/>
<rect x="236.93" y="250.05" width="1.62" height="4.55" fill="#ccc"/>
<rect x="239.95" y="250.05" width="1.62" height="4.55" fill="#ccc"/>
<rect x="242.97" y="250.05" width="1.62" height="4.55" fill="#ccc"/>
<rect x="245.98" y="250.05" width="1.62" height="4.55" fill="#ccc"/>
<rect x="507.00" y="243.10" width="19.00" height="12.50" fill="#000"/>
<rect x="508.30" y="244.30" width="1.60" height="4.55" fill="#ccc"/>
<rect x="511.30" y="244.30" width="1.60" height="4.55" fill="#ccc"/>
<rect x="514.30" y="244.30" width="1.60" height="4.55" fill="#ccc"/>
<rect x="517.30" y="244.30" width="1.60" height="4.55" fill="#ccc"/>
<rect x="520.30" y="244.30" width="1.60" height="4.55" fill="#ccc"/>
<rect x="523.30" y="244.30" width="1.60" height="4.55" fill="#ccc"/>
<rect x="508.30" y="250.05" width="1.60" height="4.55" fill="#ccc"/>
<rect x="511.30" y="250.05" width="1.60" height="4.55" fill="#ccc"/>
<rect x="514.30" y="250.05" width="1.60" height="4.55" fill="#ccc"/>
<rect x="517.30" y="250.05" width="1.60" height="4.55" fill="#ccc"/>
<rect x="520.30" y="250.05" width="1.60" height="4.55" fill="#ccc"/>
<rect x="523.30" y="250.05" width="1.60" height="4.55" fill="#ccc"/>
<line x1="214.30" y1="228.30" x2="214.30" y2="271.00" stroke="#000" stroke-width="1.2" stroke-dasharray="4.5,3" />
<line x1="541.80" y1="228.30" x2="541.80" y2="271.00" stroke="#000" stroke-width="1.2" stroke-dasharray="4.5,3" />
<polyline points="190.50,207.50 214.00,225.30 229.60,243.10" fill="none" stroke="#000" stroke-width="1.25" stroke-dasharray="5.2,3.6"/>
<polyline points="229.60,255.60 214.00,274.00 190.50,292.50" fill="none" stroke="#000" stroke-width="1.25" stroke-dasharray="5.2,3.6"/>
<polyline points="566.00,207.50 542.30,225.30 526.00,243.10" fill="none" stroke="#000" stroke-width="1.25" stroke-dasharray="5.2,3.6"/>
<polyline points="526.00,255.60 542.30,274.00 566.00,292.50" fill="none" stroke="#000" stroke-width="1.25" stroke-dasharray="5.2,3.6"/>
<text x="197.50" y="249.15" font-size="3.9" text-anchor="middle" fill="#707070" font-weight="bold" font-family="Liberation Sans" textLength="3.2" lengthAdjust="spacingAndGlyphs" >W</text>
<line x1="200.50" y1="249.35" x2="206.00" y2="249.35" stroke="#000" stroke-width="0.9" />
<path d="M208.50 249.35 L205.00 247.85 L205.00 250.85 Z" fill="#000"/>
<line x1="219.00" y1="249.35" x2="226.00" y2="249.35" stroke="#000" stroke-width="0.9" />
<path d="M216.50 249.35 L220.00 247.85 L220.00 250.85 Z" fill="#000"/>
<line x1="530.00" y1="249.35" x2="537.00" y2="249.35" stroke="#000" stroke-width="0.9" />
<path d="M539.50 249.35 L536.00 247.85 L536.00 250.85 Z" fill="#000"/>
<line x1="551.50" y1="249.35" x2="558.00" y2="249.35" stroke="#000" stroke-width="0.9" />
<path d="M549.00 249.35 L552.50 247.85 L552.50 250.85 Z" fill="#000"/>
<text x="562.50" y="249.15" font-size="3.9" text-anchor="middle" fill="#707070" font-weight="bold" font-family="Liberation Sans" textLength="3.2" lengthAdjust="spacingAndGlyphs" >W</text>
<rect x="370.30" y="246.35" width="15.20" height="5.80" fill="#d0d0d0" stroke="#000" stroke-width="1.1" />
<text x="377.80" y="250.45" font-size="2.6" text-anchor="middle" fill="#fff" font-weight="normal" font-family="Liberation Sans" >10000</text>
<line x1="214.00" y1="313.75" x2="542.30" y2="313.75" stroke="#111" stroke-width="3.9" />
<line x1="215.00" y1="313.75" x2="541.30" y2="313.75" stroke="#5a5a5a" stroke-width="1.9" stroke-dasharray="2.9,2.1" />
<line x1="214.00" y1="362.00" x2="542.30" y2="362.00" stroke="#111" stroke-width="3.9" />
<line x1="215.00" y1="362.00" x2="541.30" y2="362.00" stroke="#5a5a5a" stroke-width="1.9" stroke-dasharray="2.9,2.1" />
<line x1="229.60" y1="330.90" x2="526.00" y2="330.90" stroke="#000" stroke-width="1.6" />
<line x1="229.60" y1="344.30" x2="526.00" y2="344.30" stroke="#000" stroke-width="1.6" />
<rect x="229.60" y="330.90" width="19.10" height="13.40" fill="#000"/>
<rect x="230.90" y="332.10" width="1.62" height="5.00" fill="#ccc"/>
<rect x="233.92" y="332.10" width="1.62" height="5.00" fill="#ccc"/>
<rect x="236.93" y="332.10" width="1.62" height="5.00" fill="#ccc"/>
<rect x="239.95" y="332.10" width="1.62" height="5.00" fill="#ccc"/>
<rect x="242.97" y="332.10" width="1.62" height="5.00" fill="#ccc"/>
<rect x="245.98" y="332.10" width="1.62" height="5.00" fill="#ccc"/>
<rect x="230.90" y="338.30" width="1.62" height="5.00" fill="#ccc"/>
<rect x="233.92" y="338.30" width="1.62" height="5.00" fill="#ccc"/>
<rect x="236.93" y="338.30" width="1.62" height="5.00" fill="#ccc"/>
<rect x="239.95" y="338.30" width="1.62" height="5.00" fill="#ccc"/>
<rect x="242.97" y="338.30" width="1.62" height="5.00" fill="#ccc"/>
<rect x="245.98" y="338.30" width="1.62" height="5.00" fill="#ccc"/>
<rect x="507.00" y="330.90" width="19.00" height="13.40" fill="#000"/>
<rect x="508.30" y="332.10" width="1.60" height="5.00" fill="#ccc"/>
<rect x="511.30" y="332.10" width="1.60" height="5.00" fill="#ccc"/>
<rect x="514.30" y="332.10" width="1.60" height="5.00" fill="#ccc"/>
<rect x="517.30" y="332.10" width="1.60" height="5.00" fill="#ccc"/>
<rect x="520.30" y="332.10" width="1.60" height="5.00" fill="#ccc"/>
<rect x="523.30" y="332.10" width="1.60" height="5.00" fill="#ccc"/>
<rect x="508.30" y="338.30" width="1.60" height="5.00" fill="#ccc"/>
<rect x="511.30" y="338.30" width="1.60" height="5.00" fill="#ccc"/>
<rect x="514.30" y="338.30" width="1.60" height="5.00" fill="#ccc"/>
<rect x="517.30" y="338.30" width="1.60" height="5.00" fill="#ccc"/>
<rect x="520.30" y="338.30" width="1.60" height="5.00" fill="#ccc"/>
<rect x="523.30" y="338.30" width="1.60" height="5.00" fill="#ccc"/>
<line x1="214.30" y1="316.75" x2="214.30" y2="359.00" stroke="#000" stroke-width="1.2" stroke-dasharray="4.5,3" />
<line x1="541.80" y1="316.75" x2="541.80" y2="359.00" stroke="#000" stroke-width="1.2" stroke-dasharray="4.5,3" />
<polyline points="190.50,295.00 214.00,313.75 229.60,330.90" fill="none" stroke="#000" stroke-width="1.25" stroke-dasharray="5.2,3.6"/>
<polyline points="229.60,344.30 214.00,362.00 190.50,380.50" fill="none" stroke="#000" stroke-width="1.25" stroke-dasharray="5.2,3.6"/>
<polyline points="566.00,295.00 542.30,313.75 526.00,330.90" fill="none" stroke="#000" stroke-width="1.25" stroke-dasharray="5.2,3.6"/>
<polyline points="526.00,344.30 542.30,362.00 566.00,380.50" fill="none" stroke="#000" stroke-width="1.25" stroke-dasharray="5.2,3.6"/>
<text x="197.50" y="337.40" font-size="3.9" text-anchor="middle" fill="#707070" font-weight="bold" font-family="Liberation Sans" textLength="3.2" lengthAdjust="spacingAndGlyphs" >W</text>
<line x1="200.50" y1="337.60" x2="206.00" y2="337.60" stroke="#000" stroke-width="0.9" />
<path d="M208.50 337.60 L205.00 336.10 L205.00 339.10 Z" fill="#000"/>
<line x1="219.00" y1="337.60" x2="226.00" y2="337.60" stroke="#000" stroke-width="0.9" />
<path d="M216.50 337.60 L220.00 336.10 L220.00 339.10 Z" fill="#000"/>
<line x1="530.00" y1="337.60" x2="537.00" y2="337.60" stroke="#000" stroke-width="0.9" />
<path d="M539.50 337.60 L536.00 336.10 L536.00 339.10 Z" fill="#000"/>
<line x1="551.50" y1="337.60" x2="558.00" y2="337.60" stroke="#000" stroke-width="0.9" />
<path d="M549.00 337.60 L552.50 336.10 L552.50 339.10 Z" fill="#000"/>
<text x="562.50" y="337.40" font-size="3.9" text-anchor="middle" fill="#707070" font-weight="bold" font-family="Liberation Sans" textLength="3.2" lengthAdjust="spacingAndGlyphs" >W</text>
<rect x="370.30" y="334.60" width="15.20" height="5.80" fill="#d0d0d0" stroke="#000" stroke-width="1.1" />
<text x="377.80" y="338.70" font-size="2.6" text-anchor="middle" fill="#fff" font-weight="normal" font-family="Liberation Sans" >10000</text>
<line x1="297.80" y1="208.80" x2="297.80" y2="290.10" stroke="#000" stroke-width="1.2" stroke-dasharray="3.5,2" />
<line x1="309.00" y1="208.80" x2="309.00" y2="290.10" stroke="#000" stroke-width="1.2" stroke-dasharray="3.5,2" />
<line x1="297.80" y1="208.80" x2="309.00" y2="208.80" stroke="#000" stroke-width="1.2" stroke-dasharray="3,1.5" />
<line x1="297.80" y1="290.10" x2="309.00" y2="290.10" stroke="#000" stroke-width="1.2" stroke-dasharray="3,1.5" />
<line x1="300.50" y1="229.00" x2="300.50" y2="240.00" stroke="#222" stroke-width="0.9" stroke-dasharray="2.5,2" />
<line x1="303.40" y1="229.00" x2="303.40" y2="240.00" stroke="#222" stroke-width="0.9" stroke-dasharray="2.5,2" />
<line x1="306.30" y1="229.00" x2="306.30" y2="240.00" stroke="#222" stroke-width="0.9" stroke-dasharray="2.5,2" />
<line x1="300.50" y1="258.00" x2="300.50" y2="270.00" stroke="#222" stroke-width="0.9" stroke-dasharray="2.5,2" />
<line x1="303.40" y1="258.00" x2="303.40" y2="270.00" stroke="#222" stroke-width="0.9" stroke-dasharray="2.5,2" />
<line x1="306.30" y1="258.00" x2="306.30" y2="270.00" stroke="#222" stroke-width="0.9" stroke-dasharray="2.5,2" />
<line x1="300.50" y1="213.00" x2="300.50" y2="222.00" stroke="#222" stroke-width="0.9" stroke-dasharray="2.5,2" />
<line x1="300.50" y1="277.00" x2="300.50" y2="287.00" stroke="#222" stroke-width="0.9" stroke-dasharray="2.5,2" />
<line x1="306.30" y1="213.00" x2="306.30" y2="222.00" stroke="#222" stroke-width="0.9" stroke-dasharray="2.5,2" />
<line x1="306.30" y1="277.00" x2="306.30" y2="287.00" stroke="#222" stroke-width="0.9" stroke-dasharray="2.5,2" />
<line x1="303.40" y1="246.00" x2="303.40" y2="253.00" stroke="#222" stroke-width="0.9" />
<text x="310.60" y="251.80" font-size="5" text-anchor="start" fill="#444" font-weight="normal" font-family="Liberation Sans" textLength="17" lengthAdjust="spacingAndGlyphs" >Q=3.2 т</text>
<line x1="377.80" y1="210.50" x2="377.80" y2="219.50" stroke="#000" stroke-width="1.0" />
<path d="M377.80 222.00 L376.40 218.50 L379.20 218.50 Z" fill="#000"/>
<line x1="377.80" y1="231.00" x2="377.80" y2="240.00" stroke="#000" stroke-width="1.0" />
<path d="M377.80 228.50 L376.40 232.00 L379.20 232.00 Z" fill="#000"/>
<line x1="377.80" y1="258.50" x2="377.80" y2="268.50" stroke="#000" stroke-width="1.0" />
<path d="M377.80 271.00 L376.40 267.50 L379.20 267.50 Z" fill="#000"/>
<line x1="377.80" y1="279.50" x2="377.80" y2="289.00" stroke="#000" stroke-width="1.0" />
<path d="M377.80 277.00 L376.40 280.50 L379.20 280.50 Z" fill="#000"/>
<line x1="377.80" y1="297.00" x2="377.80" y2="308.00" stroke="#000" stroke-width="1.0" />
<path d="M377.80 310.50 L376.40 307.00 L379.20 307.00 Z" fill="#000"/>
<line x1="377.80" y1="319.50" x2="377.80" y2="328.50" stroke="#000" stroke-width="1.0" />
<path d="M377.80 317.00 L376.40 320.50 L379.20 320.50 Z" fill="#000"/>
<line x1="377.80" y1="347.00" x2="377.80" y2="356.50" stroke="#000" stroke-width="1.0" />
<path d="M377.80 359.00 L376.40 355.50 L379.20 355.50 Z" fill="#000"/>
<line x1="377.80" y1="367.50" x2="377.80" y2="378.00" stroke="#000" stroke-width="1.0" />
<path d="M377.80 365.00 L376.40 368.50 L379.20 368.50 Z" fill="#000"/>
<line x1="377.80" y1="402.70" x2="377.80" y2="409.80" stroke="#000" stroke-width="1.0" />
<path d="M377.80 412.30 L376.40 408.80 L379.20 408.80 Z" fill="#000"/>
<line x1="377.80" y1="455.00" x2="377.80" y2="461.40" stroke="#000" stroke-width="1.0" />
<path d="M377.80 452.50 L376.40 456.00 L379.20 456.00 Z" fill="#000"/>
<line x1="213.60" y1="432.20" x2="541.80" y2="432.20" stroke="#111" stroke-width="3.9" />
<line x1="214.60" y1="432.20" x2="540.80" y2="432.20" stroke="#5a5a5a" stroke-width="1.9" stroke-dasharray="2.9,2.1" />
<polyline points="190.50,384.00 213.60,432.20 192.50,478.00" fill="none" stroke="#000" stroke-width="1.25" stroke-dasharray="5.2,3.6"/>
<polyline points="566.00,384.00 541.80,432.20 566.00,478.00" fill="none" stroke="#000" stroke-width="1.25" stroke-dasharray="5.2,3.6"/>
<text x="197.00" y="432.40" font-size="3.9" text-anchor="middle" fill="#707070" font-weight="bold" font-family="Liberation Sans" textLength="3.2" lengthAdjust="spacingAndGlyphs" >W</text>
<line x1="200.20" y1="432.20" x2="204.90" y2="432.20" stroke="#000" stroke-width="0.9" />
<path d="M207.40 432.20 L203.90 430.70 L203.90 433.70 Z" fill="#000"/>
<line x1="551.50" y1="432.20" x2="558.00" y2="432.20" stroke="#000" stroke-width="0.9" />
<path d="M549.00 432.20 L552.50 430.70 L552.50 433.70 Z" fill="#000"/>
<text x="562.50" y="431.90" font-size="3.9" text-anchor="middle" fill="#707070" font-weight="bold" font-family="Liberation Sans" textLength="3.2" lengthAdjust="spacingAndGlyphs" >W</text>
<line x1="572.00" y1="432.20" x2="579.50" y2="432.20" stroke="#000" stroke-width="0.9" />
<path d="M582.00 432.20 L578.50 430.70 L578.50 433.70 Z" fill="#000"/>
<text x="194.50" y="394.00" font-size="3.4" text-anchor="middle" fill="#666" font-weight="normal" font-family="Liberation Sans" >Д1</text>
<text x="562.00" y="394.50" font-size="3.4" text-anchor="middle" fill="#666" font-weight="normal" font-family="Liberation Sans" >Д1</text>
<circle cx="355.00" cy="388.50" r="3.90" fill="#fff" stroke="#000" stroke-width="0.9"/>
<text x="355.00" y="389.70" font-size="3.2" text-anchor="middle" fill="#888" font-weight="normal" font-family="Liberation Sans" >3</text>
<rect x="347.50" y="394.40" width="15.00" height="5.50" fill="#d6d6d6" stroke="#000" stroke-width="1.0" />
<rect x="352.80" y="401.80" width="4.40" height="4.40" fill="#f0f0f0" stroke="#000" stroke-width="1.0" />
<line x1="355.00" y1="402.30" x2="355.00" y2="405.70" stroke="#888" stroke-width="0.5" />
<rect x="476.50" y="390.90" width="39.90" height="34.10" fill="none" stroke="#000" stroke-width="1.3" />
<text x="478.50" y="411.50" font-size="3.4" text-anchor="start" fill="#3a3a3a" font-weight="normal" font-family="Liberation Serif" textLength="36" lengthAdjust="spacingAndGlyphs" >Побывальная 3 отстройкой</text>
<rect x="467.30" y="450.50" width="56.70" height="27.20" fill="none" stroke="#000" stroke-width="1.3" />
<text x="469.50" y="463.50" font-size="3.4" text-anchor="start" fill="#3a3a3a" font-weight="normal" font-family="Liberation Serif" textLength="42" lengthAdjust="spacingAndGlyphs" >Побывальная электрощитовой</text>
<circle cx="228.90" cy="529.30" r="3.90" fill="#fff" stroke="#000" stroke-width="0.9"/>
<text x="228.90" y="530.50" font-size="3.2" text-anchor="middle" fill="#888" font-weight="normal" font-family="Liberation Sans" >4</text>
<rect x="226.70" y="535.10" width="4.40" height="4.40" fill="#f0f0f0" stroke="#000" stroke-width="1.0" />
<line x1="228.90" y1="535.60" x2="228.90" y2="539.00" stroke="#888" stroke-width="0.5" />
<circle cx="294.00" cy="516.70" r="3.90" fill="#fff" stroke="#000" stroke-width="0.9"/>
<text x="294.00" y="517.90" font-size="3.2" text-anchor="middle" fill="#888" font-weight="normal" font-family="Liberation Sans" >5</text>
<rect x="291.80" y="522.50" width="4.40" height="4.40" fill="#f0f0f0" stroke="#000" stroke-width="1.0" />
<line x1="294.00" y1="523.00" x2="294.00" y2="526.40" stroke="#888" stroke-width="0.5" />
<circle cx="295.00" cy="568.00" r="3.90" fill="#fff" stroke="#000" stroke-width="0.9"/>
<text x="295.00" y="569.20" font-size="3.2" text-anchor="middle" fill="#888" font-weight="normal" font-family="Liberation Sans" >6</text>
<rect x="292.80" y="573.80" width="4.40" height="4.40" fill="#f0f0f0" stroke="#000" stroke-width="1.0" />
<line x1="295.00" y1="574.30" x2="295.00" y2="577.70" stroke="#888" stroke-width="0.5" />
<circle cx="317.80" cy="535.00" r="3.90" fill="#fff" stroke="#000" stroke-width="0.9"/>
<text x="317.80" y="536.20" font-size="3.2" text-anchor="middle" fill="#888" font-weight="normal" font-family="Liberation Sans" >7</text>
<rect x="315.60" y="540.80" width="4.40" height="4.40" fill="#f0f0f0" stroke="#000" stroke-width="1.0" />
<line x1="317.80" y1="541.30" x2="317.80" y2="544.70" stroke="#888" stroke-width="0.5" />
<circle cx="342.50" cy="489.10" r="3.70" fill="#fff" stroke="#000" stroke-width="0.9"/>
<text x="342.50" y="490.30" font-size="3.2" text-anchor="middle" fill="#888" font-weight="normal" font-family="Liberation Sans" >9</text>
<rect x="340.30" y="494.70" width="4.40" height="4.40" fill="#f0f0f0" stroke="#000" stroke-width="1.0" />
<line x1="342.50" y1="495.20" x2="342.50" y2="498.60" stroke="#888" stroke-width="0.5" />
<circle cx="355.00" cy="535.50" r="3.90" fill="#fff" stroke="#000" stroke-width="0.9"/>
<text x="355.00" y="536.70" font-size="3.2" text-anchor="middle" fill="#888" font-weight="normal" font-family="Liberation Sans" >8</text>
<rect x="352.80" y="541.30" width="4.40" height="4.40" fill="#f0f0f0" stroke="#000" stroke-width="1.0" />
<line x1="355.00" y1="541.80" x2="355.00" y2="545.20" stroke="#888" stroke-width="0.5" />
<circle cx="473.00" cy="524.00" r="3.90" fill="#fff" stroke="#000" stroke-width="0.9"/>
<text x="473.00" y="525.20" font-size="3.2" text-anchor="middle" fill="#888" font-weight="normal" font-family="Liberation Sans" >10</text>
<rect x="465.50" y="529.90" width="15.00" height="5.50" fill="#d6d6d6" stroke="#000" stroke-width="1.0" />
<rect x="470.80" y="537.30" width="4.40" height="4.40" fill="#f0f0f0" stroke="#000" stroke-width="1.0" />
<line x1="473.00" y1="537.80" x2="473.00" y2="541.20" stroke="#888" stroke-width="0.5" />
<text x="196.00" y="532.50" font-size="3.4" text-anchor="middle" fill="#666" font-weight="normal" font-family="Liberation Sans" >ВП1</text>
<text x="236.50" y="578.00" font-size="3.6" text-anchor="middle" fill="#666" font-weight="normal" font-family="Liberation Sans" >Ок1</text>
<text x="286.50" y="577.00" font-size="3.4" text-anchor="middle" fill="#666" font-weight="normal" font-family="Liberation Sans" >Д4</text>
<text x="338.50" y="578.50" font-size="3.6" text-anchor="middle" fill="#666" font-weight="normal" font-family="Liberation Sans" >Ок2</text>
<text x="353.50" y="582.00" font-size="3.4" text-anchor="middle" fill="#666" font-weight="normal" font-family="Liberation Sans" >Д4</text>
<text x="372.00" y="578.50" font-size="3.6" text-anchor="middle" fill="#666" font-weight="normal" font-family="Liberation Sans" >Ок2</text>
<text x="563.00" y="531.50" font-size="3.4" text-anchor="middle" fill="#666" font-weight="normal" font-family="Liberation Sans" >В2</text>
<text x="197.50" y="484.20" font-size="3.4" text-anchor="middle" fill="#666" font-weight="normal" font-family="Liberation Sans" >Д2</text>
<text x="291.50" y="484.00" font-size="3.4" text-anchor="middle" fill="#666" font-weight="normal" font-family="Liberation Sans" >Д3</text>
<text x="316.50" y="484.00" font-size="3.4" text-anchor="middle" fill="#666" font-weight="normal" font-family="Liberation Sans" >Д3</text>
<text x="339.00" y="484.00" font-size="3.4" text-anchor="middle" fill="#666" font-weight="normal" font-family="Liberation Sans" >Д2</text>
<text x="401.00" y="482.00" font-size="3.4" text-anchor="middle" fill="#666" font-weight="normal" font-family="Liberation Sans" >Д3</text>
<text x="761.50" y="174.20" font-size="5.6" text-anchor="start" fill="#333" font-weight="normal" font-family="Liberation Sans" textLength="103" lengthAdjust="spacingAndGlyphs" >Экспликация помещений на отм. 0.000</text>
<line x1="761.00" y1="176.80" x2="864.50" y2="176.80" stroke="#000" stroke-width="1.1" />
<line x1="732.50" y1="184.40" x2="732.50" y2="301.60" stroke="#000" stroke-width="1.3" />
<line x1="751.50" y1="184.40" x2="751.50" y2="301.60" stroke="#000" stroke-width="1.3" />
<line x1="851.50" y1="184.40" x2="851.50" y2="301.60" stroke="#000" stroke-width="1.3" />
<line x1="877.50" y1="184.40" x2="877.50" y2="301.60" stroke="#000" stroke-width="1.3" />
<line x1="889.50" y1="184.40" x2="889.50" y2="301.60" stroke="#000" stroke-width="1.3" />
<line x1="732.50" y1="185.00" x2="889.50" y2="185.00" stroke="#000" stroke-width="1.3" />
<line x1="732.50" y1="203.50" x2="889.50" y2="203.50" stroke="#000" stroke-width="1.2" />
<line x1="732.50" y1="212.50" x2="889.50" y2="212.50" stroke="#000" stroke-width="1.0" />
<line x1="732.50" y1="221.50" x2="889.50" y2="221.50" stroke="#000" stroke-width="1.0" />
<line x1="732.50" y1="230.50" x2="889.50" y2="230.50" stroke="#000" stroke-width="1.0" />
<line x1="732.50" y1="239.50" x2="889.50" y2="239.50" stroke="#000" stroke-width="1.0" />
<line x1="732.50" y1="248.50" x2="889.50" y2="248.50" stroke="#000" stroke-width="1.0" />
<line x1="732.50" y1="257.50" x2="889.50" y2="257.50" stroke="#000" stroke-width="1.0" />
<line x1="732.50" y1="266.50" x2="889.50" y2="266.50" stroke="#000" stroke-width="1.0" />
<line x1="732.50" y1="275.50" x2="889.50" y2="275.50" stroke="#000" stroke-width="1.0" />
<line x1="732.50" y1="284.50" x2="889.50" y2="284.50" stroke="#000" stroke-width="1.0" />
<line x1="732.50" y1="293.50" x2="889.50" y2="293.50" stroke="#000" stroke-width="1.0" />
<line x1="732.50" y1="301.00" x2="889.50" y2="301.00" stroke="#000" stroke-width="1.2" />
<text x="741.70" y="192.50" font-size="4" text-anchor="middle" fill="#444" font-weight="normal" font-family="Liberation Sans" textLength="14" lengthAdjust="spacingAndGlyphs" >Номер</text>
<text x="741.70" y="198.00" font-size="4" text-anchor="middle" fill="#444" font-weight="normal" font-family="Liberation Sans" >пом.</text>
<text x="801.40" y="195.80" font-size="4.6" text-anchor="middle" fill="#333" font-weight="normal" font-family="Liberation Sans" textLength="33" lengthAdjust="spacingAndGlyphs" >Наименование</text>
<text x="864.40" y="192.30" font-size="4" text-anchor="middle" fill="#444" font-weight="normal" font-family="Liberation Sans" textLength="20" lengthAdjust="spacingAndGlyphs" >Площадь</text>
<text x="864.40" y="198.00" font-size="4" text-anchor="middle" fill="#444" font-weight="normal" font-family="Liberation Sans" >кв.м</text>
<text x="883.30" y="195.40" font-size="4" text-anchor="middle" fill="#444" font-weight="normal" font-family="Liberation Sans" textLength="10" lengthAdjust="spacingAndGlyphs" >Кол.</text>
<text x="741.70" y="209.50" font-size="4.4" text-anchor="middle" fill="#666" font-weight="normal" font-family="Liberation Sans" >1</text>
<text x="752.50" y="209.50" font-size="3.9" text-anchor="start" fill="#666" font-weight="normal" font-family="Liberation Sans" textLength="8.2" lengthAdjust="spacingAndGlyphs" >Бокс</text>
<text x="864.40" y="209.50" font-size="3.9" text-anchor="middle" fill="#666" font-weight="normal" font-family="Liberation Sans" textLength="10.5" lengthAdjust="spacingAndGlyphs" >57.64</text>
<text x="741.70" y="218.50" font-size="4.4" text-anchor="middle" fill="#666" font-weight="normal" font-family="Liberation Sans" >2</text>
<text x="752.50" y="218.50" font-size="3.9" text-anchor="start" fill="#666" font-weight="normal" font-family="Liberation Sans" textLength="18.45" lengthAdjust="spacingAndGlyphs" >Помещение</text>
<text x="864.40" y="218.50" font-size="3.9" text-anchor="middle" fill="#666" font-weight="normal" font-family="Liberation Sans" textLength="10.5" lengthAdjust="spacingAndGlyphs" >17.61</text>
<text x="741.70" y="227.50" font-size="4.4" text-anchor="middle" fill="#666" font-weight="normal" font-family="Liberation Sans" >3</text>
<text x="752.50" y="227.50" font-size="3.9" text-anchor="start" fill="#666" font-weight="normal" font-family="Liberation Sans" textLength="8.2" lengthAdjust="spacingAndGlyphs" >Бокс</text>
<text x="864.40" y="227.50" font-size="3.9" text-anchor="middle" fill="#666" font-weight="normal" font-family="Liberation Sans" textLength="8.4" lengthAdjust="spacingAndGlyphs" >6.07</text>
<text x="741.70" y="236.50" font-size="4.4" text-anchor="middle" fill="#666" font-weight="normal" font-family="Liberation Sans" >4</text>
<text x="752.50" y="236.50" font-size="3.9" text-anchor="start" fill="#666" font-weight="normal" font-family="Liberation Sans" textLength="49.199999999999996" lengthAdjust="spacingAndGlyphs" >Приемка с кормовой зоной</text>
<text x="864.40" y="236.50" font-size="3.9" text-anchor="middle" fill="#666" font-weight="normal" font-family="Liberation Sans" textLength="10.5" lengthAdjust="spacingAndGlyphs" >58.79</text>
<text x="741.70" y="245.50" font-size="4.4" text-anchor="middle" fill="#666" font-weight="normal" font-family="Liberation Sans" >5</text>
<text x="752.50" y="245.50" font-size="3.9" text-anchor="start" fill="#666" font-weight="normal" font-family="Liberation Sans" textLength="10.25" lengthAdjust="spacingAndGlyphs" >Склад</text>
<text x="864.40" y="245.50" font-size="3.9" text-anchor="middle" fill="#666" font-weight="normal" font-family="Liberation Sans" textLength="10.5" lengthAdjust="spacingAndGlyphs" >10.54</text>
<text x="741.70" y="254.50" font-size="4.4" text-anchor="middle" fill="#666" font-weight="normal" font-family="Liberation Sans" >6</text>
<text x="752.50" y="254.50" font-size="3.9" text-anchor="start" fill="#666" font-weight="normal" font-family="Liberation Sans" textLength="6.1499999999999995" lengthAdjust="spacingAndGlyphs" >С/у</text>
<text x="864.40" y="254.50" font-size="3.9" text-anchor="middle" fill="#666" font-weight="normal" font-family="Liberation Sans" textLength="8.4" lengthAdjust="spacingAndGlyphs" >3.66</text>
<text x="741.70" y="263.50" font-size="4.4" text-anchor="middle" fill="#666" font-weight="normal" font-family="Liberation Sans" >7</text>
<text x="752.50" y="263.50" font-size="3.9" text-anchor="start" fill="#666" font-weight="normal" font-family="Liberation Sans" textLength="10.25" lengthAdjust="spacingAndGlyphs" >Склад</text>
<text x="864.40" y="263.50" font-size="3.9" text-anchor="middle" fill="#666" font-weight="normal" font-family="Liberation Sans" textLength="8.4" lengthAdjust="spacingAndGlyphs" >6.39</text>
<text x="741.70" y="272.50" font-size="4.4" text-anchor="middle" fill="#666" font-weight="normal" font-family="Liberation Sans" >8</text>
<text x="752.50" y="272.50" font-size="3.9" text-anchor="start" fill="#666" font-weight="normal" font-family="Liberation Sans" textLength="6.1499999999999995" lengthAdjust="spacingAndGlyphs" >С/у</text>
<text x="864.40" y="272.50" font-size="3.9" text-anchor="middle" fill="#666" font-weight="normal" font-family="Liberation Sans" textLength="8.4" lengthAdjust="spacingAndGlyphs" >2.96</text>
<text x="741.70" y="281.50" font-size="4.4" text-anchor="middle" fill="#666" font-weight="normal" font-family="Liberation Sans" >9</text>
<text x="752.50" y="281.50" font-size="3.9" text-anchor="start" fill="#666" font-weight="normal" font-family="Liberation Sans" textLength="18.45" lengthAdjust="spacingAndGlyphs" >Котельная</text>
<text x="864.40" y="281.50" font-size="3.9" text-anchor="middle" fill="#666" font-weight="normal" font-family="Liberation Sans" textLength="10.5" lengthAdjust="spacingAndGlyphs" >28.67</text>
<text x="741.70" y="290.50" font-size="4.4" text-anchor="middle" fill="#666" font-weight="normal" font-family="Liberation Sans" >10</text>
<text x="752.50" y="290.50" font-size="3.9" text-anchor="start" fill="#666" font-weight="normal" font-family="Liberation Sans" textLength="10.25" lengthAdjust="spacingAndGlyphs" >Склад</text>
<text x="864.40" y="290.50" font-size="3.9" text-anchor="middle" fill="#666" font-weight="normal" font-family="Liberation Sans" textLength="12.600000000000001" lengthAdjust="spacingAndGlyphs" >119.88</text>
<text x="851.00" y="298.70" font-size="3.6" text-anchor="end" fill="#666" font-weight="normal" font-family="Liberation Sans" textLength="10" lengthAdjust="spacingAndGlyphs" >Итого</text>
<text x="864.40" y="298.70" font-size="3.8" text-anchor="middle" fill="#666" font-weight="normal" font-family="Liberation Sans" textLength="11" lengthAdjust="spacingAndGlyphs" >559.59</text>
<text x="805.80" y="643.60" font-size="4.8" text-anchor="start" fill="#4a4a4a" font-weight="normal" font-family="Liberation Sans" textLength="68" lengthAdjust="spacingAndGlyphs" >1. Разрез 1-1 выполнен см. л. АР-18.</text>
<text x="805.80" y="649.40" font-size="4.8" text-anchor="start" fill="#4a4a4a" font-weight="normal" font-family="Liberation Sans" textLength="70" lengthAdjust="spacingAndGlyphs" >2. Разрез 2-2 выполнен см. л. АР-18.</text>
<text x="805.80" y="656.40" font-size="4.8" text-anchor="start" fill="#4a4a4a" font-weight="normal" font-family="Liberation Sans" textLength="156" lengthAdjust="spacingAndGlyphs" >3. Спецификация заполнения оконных и дверных проемов выполнено см. л. АР-19.</text>
<text x="805.80" y="662.20" font-size="4.8" text-anchor="start" fill="#4a4a4a" font-weight="normal" font-family="Liberation Sans" textLength="88" lengthAdjust="spacingAndGlyphs" >4. Экспликация полов выполнено см. л. АР-19.</text>
<line x1="806.50" y1="669.50" x2="1039.50" y2="669.50" stroke="#000" stroke-width="1.5" />
<line x1="806.50" y1="675.50" x2="888.50" y2="675.50" stroke="#000" stroke-width="1.2" />
<line x1="806.50" y1="681.50" x2="888.50" y2="681.50" stroke="#000" stroke-width="1.2" />
<line x1="806.50" y1="688.50" x2="888.50" y2="688.50" stroke="#000" stroke-width="1.2" />
<line x1="806.50" y1="694.50" x2="888.50" y2="694.50" stroke="#000" stroke-width="1.2" />
<line x1="806.50" y1="701.50" x2="888.50" y2="701.50" stroke="#000" stroke-width="1.2" />
<line x1="806.50" y1="707.50" x2="888.50" y2="707.50" stroke="#000" stroke-width="1.2" />
<line x1="806.50" y1="713.50" x2="888.50" y2="713.50" stroke="#000" stroke-width="1.2" />
<line x1="806.50" y1="719.50" x2="888.50" y2="719.50" stroke="#000" stroke-width="1.2" />
<line x1="806.50" y1="725.50" x2="888.50" y2="725.50" stroke="#000" stroke-width="1.2" />
<line x1="806.50" y1="732.50" x2="888.50" y2="732.50" stroke="#000" stroke-width="1.2" />
<line x1="819.00" y1="669.50" x2="819.00" y2="701.00" stroke="#000" stroke-width="1.4" />
<line x1="844.50" y1="669.50" x2="844.50" y2="701.00" stroke="#000" stroke-width="1.4" />
<line x1="806.50" y1="669.50" x2="806.50" y2="738.50" stroke="#000" stroke-width="1.5" />
<line x1="831.50" y1="669.50" x2="831.50" y2="738.50" stroke="#000" stroke-width="1.5" />
<line x1="857.00" y1="669.50" x2="857.00" y2="738.50" stroke="#000" stroke-width="1.5" />
<line x1="875.50" y1="669.50" x2="875.50" y2="738.50" stroke="#000" stroke-width="1.5" />
<line x1="888.50" y1="669.50" x2="888.50" y2="738.50" stroke="#000" stroke-width="1.5" />
<line x1="888.50" y1="682.00" x2="1039.50" y2="682.00" stroke="#333" stroke-width="1.5" />
<line x1="888.50" y1="701.50" x2="1039.50" y2="701.50" stroke="#000" stroke-width="1.5" />
<line x1="888.50" y1="719.50" x2="1039.50" y2="719.50" stroke="#000" stroke-width="1.5" />
<line x1="976.50" y1="701.50" x2="976.50" y2="738.50" stroke="#000" stroke-width="1.5" />
<line x1="995.50" y1="701.50" x2="995.50" y2="719.50" stroke="#000" stroke-width="1.5" />
<line x1="1014.50" y1="701.50" x2="1014.50" y2="719.50" stroke="#000" stroke-width="1.5" />
<line x1="976.50" y1="708.00" x2="1039.50" y2="708.00" stroke="#000" stroke-width="1.2" />
<text x="812.80" y="699.60" font-size="3.8" text-anchor="middle" fill="#555" font-weight="normal" font-family="Liberation Sans" textLength="10" lengthAdjust="spacingAndGlyphs" >Изм.</text>
<text x="825.30" y="699.60" font-size="3.8" text-anchor="middle" fill="#555" font-weight="normal" font-family="Liberation Sans" textLength="10" lengthAdjust="spacingAndGlyphs" >Кол.</text>
<text x="838.00" y="699.60" font-size="3.8" text-anchor="middle" fill="#555" font-weight="normal" font-family="Liberation Sans" textLength="10" lengthAdjust="spacingAndGlyphs" >Лист</text>
<text x="850.80" y="699.60" font-size="3.8" text-anchor="middle" fill="#555" font-weight="normal" font-family="Liberation Sans" textLength="11.5" lengthAdjust="spacingAndGlyphs" >№Док.</text>
<text x="866.20" y="699.60" font-size="3.8" text-anchor="middle" fill="#555" font-weight="normal" font-family="Liberation Sans" textLength="11.5" lengthAdjust="spacingAndGlyphs" >Подп.</text>
<text x="882.00" y="699.60" font-size="3.8" text-anchor="middle" fill="#555" font-weight="normal" font-family="Liberation Sans" textLength="10" lengthAdjust="spacingAndGlyphs" >Дата</text>
<text x="807.80" y="711.80" font-size="3.4" text-anchor="start" fill="#666" font-weight="normal" font-family="Liberation Sans" textLength="15" lengthAdjust="spacingAndGlyphs" >Разработал</text>
<text x="832.80" y="711.80" font-size="3.4" text-anchor="start" fill="#666" font-weight="normal" font-family="Liberation Sans" textLength="12" lengthAdjust="spacingAndGlyphs" >Ушаков</text>
<text x="807.80" y="724.20" font-size="3.4" text-anchor="start" fill="#666" font-weight="normal" font-family="Liberation Sans" textLength="12" lengthAdjust="spacingAndGlyphs" >Н.контр.</text>
<text x="833.80" y="724.20" font-size="3.4" text-anchor="start" fill="#666" font-weight="normal" font-family="Liberation Sans" textLength="13" lengthAdjust="spacingAndGlyphs" >Абрамов</text>
<text x="807.80" y="730.60" font-size="3.4" text-anchor="start" fill="#666" font-weight="normal" font-family="Liberation Sans" textLength="6" lengthAdjust="spacingAndGlyphs" >ГИП</text>
<text x="833.80" y="730.60" font-size="3.4" text-anchor="start" fill="#666" font-weight="normal" font-family="Liberation Sans" textLength="13" lengthAdjust="spacingAndGlyphs" >Абрамов</text>
<text x="882.00" y="711.80" font-size="3.4" text-anchor="middle" fill="#777" font-weight="normal" font-family="Liberation Sans" textLength="7" lengthAdjust="spacingAndGlyphs" >04.2</text>
<text x="882.00" y="724.20" font-size="3.4" text-anchor="middle" fill="#777" font-weight="normal" font-family="Liberation Sans" textLength="7" lengthAdjust="spacingAndGlyphs" >04.2</text>
<text x="882.00" y="730.60" font-size="3.4" text-anchor="middle" fill="#777" font-weight="normal" font-family="Liberation Sans" textLength="7" lengthAdjust="spacingAndGlyphs" >04.2</text>
<path d="M857.5 710 C860 707 862 706 864 707 M859 715 L867 705.5 M861.5 713 C864 710 866 711 868 709.5 C870 711 872 711 873 711 M862 716 L868 708" fill="none" stroke="#000" stroke-width="1.4"/>
<path d="M861 722 C864 719 867 720 871 717 M862 725 L871 719 M866 718 L868 716 M860 727.5 C864 725 867 726 872 723 M861 731 L872 724 M867 733 L870 726" fill="none" stroke="#000" stroke-width="1.4"/>
<text x="985.90" y="706.00" font-size="3.4" text-anchor="middle" fill="#555" font-weight="normal" font-family="Liberation Sans" textLength="12" lengthAdjust="spacingAndGlyphs" >Стадия</text>
<text x="1004.60" y="706.00" font-size="3.4" text-anchor="middle" fill="#555" font-weight="normal" font-family="Liberation Sans" textLength="10" lengthAdjust="spacingAndGlyphs" >Лист</text>
<text x="1026.70" y="706.00" font-size="3.4" text-anchor="middle" fill="#555" font-weight="normal" font-family="Liberation Sans" textLength="13" lengthAdjust="spacingAndGlyphs" >Листов</text>
<text x="985.90" y="714.60" font-size="4" text-anchor="middle" fill="#555" font-weight="normal" font-family="Liberation Sans" >ЭП</text>
<text x="1004.60" y="714.60" font-size="4" text-anchor="middle" fill="#555" font-weight="normal" font-family="Liberation Sans" >15</text>
<text x="1026.70" y="714.60" font-size="4" text-anchor="middle" fill="#555" font-weight="normal" font-family="Liberation Sans" >19</text>
<text x="932.00" y="730.50" font-size="3.6" text-anchor="middle" fill="#666" font-weight="normal" font-family="Liberation Sans" textLength="56" lengthAdjust="spacingAndGlyphs" >Маркировочный план на отм. 0.000</text>
<path d="M987.6 723.5 L982.3 736.6 L993 736.6 Z" fill="#1f3f80"/>
<path d="M986.6 727 L983.6 734.5 L989.5 734.5 L988 727 Z" fill="#4f8fd0"/>
<line x1="983.50" y1="729.50" x2="990.50" y2="729.50" stroke="#9cc4ec" stroke-width="0.6" />
<line x1="983.50" y1="731.50" x2="990.50" y2="731.50" stroke="#9cc4ec" stroke-width="0.6" />
<line x1="983.50" y1="733.50" x2="990.50" y2="733.50" stroke="#9cc4ec" stroke-width="0.6" />
<text x="997.50" y="733.20" font-size="10.5" text-anchor="start" fill="#243f7a" font-weight="bold" font-family="Liberation Sans" textLength="35.5" lengthAdjust="spacingAndGlyphs" >АЛЬЯНС</text>
<text x="997.50" y="736.30" font-size="2.4" text-anchor="start" fill="#445577" font-weight="bold" font-family="Liberation Sans" textLength="35.5" lengthAdjust="spacingAndGlyphs" >строительная компания</text>
</svg></body></html>
